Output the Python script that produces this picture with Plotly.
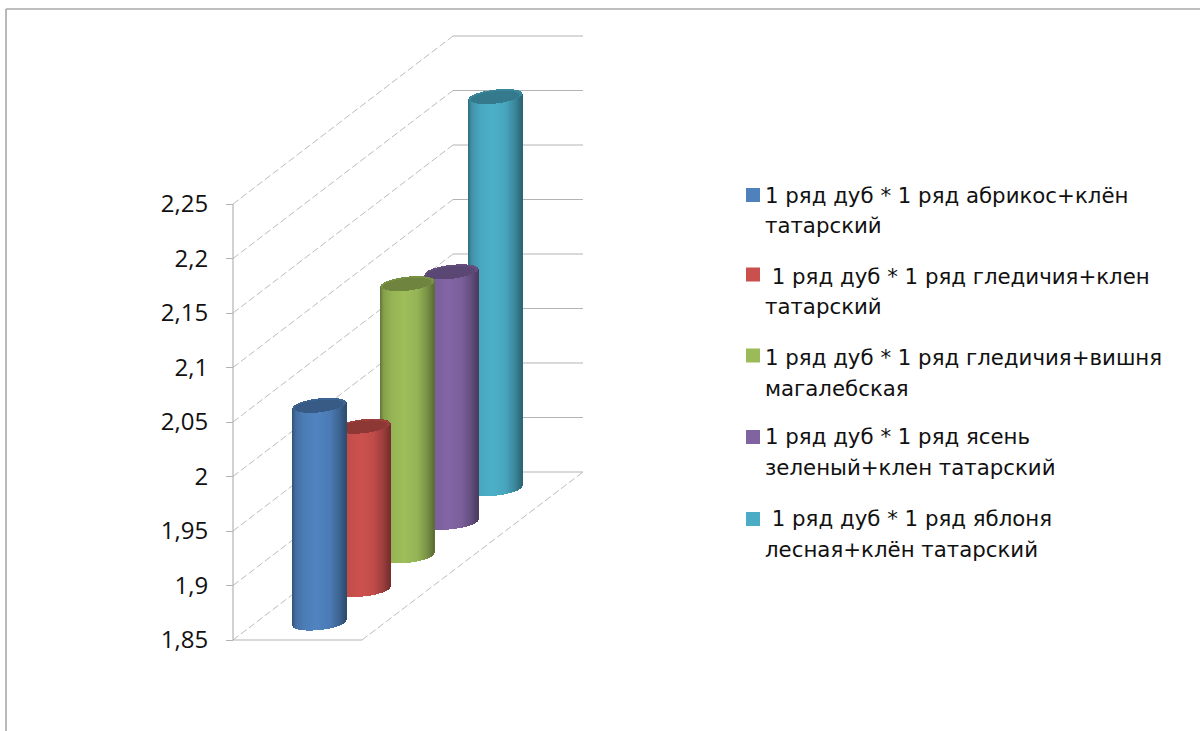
import numpy as np
import plotly.graph_objects as go

# Series, one cylinder per row of the depth axis (front to back)
series_names = [
    ["1 ряд дуб * 1 ряд абрикос+клён", "татарский"],
    ["\u00a01 ряд дуб * 1 ряд гледичия+клен", "татарский"],
    ["1 ряд дуб * 1 ряд гледичия+вишня", "магалебская"],
    ["1 ряд дуб * 1 ряд ясень", "зеленый+клен татарский"],
    ["\u00a01 ряд дуб * 1 ряд яблоня", "лесная+клён татарский"],
]
series_values = [2.05, 2.0, 2.1, 2.08, 2.21]
series_colors = ["#4F81BD", "#C9504D", "#9BBB59", "#8064A2", "#4BACC6"]

tick_values = [1.85, 1.9, 1.95, 2.0, 2.05, 2.1, 2.15, 2.2, 2.25]
tick_labels = ["1,85", "1,9", "1,95", "2", "2,05", "2,1", "2,15", "2,2", "2,25"]

WIDTH, HEIGHT = 1200, 731
FLOOR = tick_values[0]
PX_PER_UNIT = 1090.0          # vertical scale of the value axis
AXIS_X = 233.0
FRONT_WIDTH = 129.0           # width of the floor along the front edge
DEPTH_DX, DEPTH_DY = 220.0, 168.0   # oblique shift of the back wall
N_ROWS = len(series_values)
RADIUS = 26.7                 # cylinder half width
ELLIPSE_B = 6.8               # cylinder end ellipse, vertical half axis
ELLIPSE_SKEW = 0.105          # tilt of the ellipse


def px_to_value(py):
    return FLOOR + (640.0 - py) / PX_PER_UNIT


def depth_shift(d):
    """Screen shift (x, value) of a point d rows behind the front edge."""
    return DEPTH_DX * d / N_ROWS, DEPTH_DY * d / N_ROWS / PX_PER_UNIT


def shade(color, f):
    rgb = [int(color[i:i + 2], 16) for i in (1, 3, 5)]
    return "rgb({},{},{})".format(*[int(min(255, c * f)) for c in rgb])


def cap_strips(cx, top, color, scale, drop, fill):
    """One ellipse of a cylinder's end, built from thin bars so depth order holds."""
    r = RADIUS * scale
    t = np.linspace(-r, r, int(2 * r) + 1)
    half = ELLIPSE_B * scale * np.sqrt(np.clip(1 - (t / r) ** 2, 0, 1))
    centre = top + (ELLIPSE_SKEW * t - drop) / PX_PER_UNIT
    return go.Bar(
        x=cx + t,
        y=2 * half / PX_PER_UNIT,
        base=centre - half / PX_PER_UNIT,
        width=1.25,
        marker=dict(color=shade(color, fill), line=dict(width=0)),
        showlegend=False,
        hoverinfo="skip",
    )


fig = go.Figure()

# Cylinders are drawn back to front so nearer ones cover farther ones
shade_pos = [0.0, 0.06, 0.22, 0.45, 0.7, 0.88, 1.0]
shade_val = [0.66, 0.86, 0.97, 1.02, 0.96, 0.78, 0.6]
for i in reversed(range(N_ROWS)):
    dx, dv = depth_shift(i + 0.5)
    cx = AXIS_X + FRONT_WIDTH / 2 + dx
    base = FLOOR + dv
    t = np.linspace(-RADIUS, RADIUS, 54)
    lower = (ELLIPSE_SKEW * t - ELLIPSE_B * np.sqrt(np.clip(1 - (t / RADIUS) ** 2, 0, 1))) / PX_PER_UNIT
    shades = np.interp((t + RADIUS) / (2 * RADIUS), shade_pos, shade_val)
    fig.add_trace(go.Bar(
        x=cx + t,
        y=np.full_like(t, series_values[i] - FLOOR),
        base=base + lower,
        width=1.25,
        marker=dict(color=[shade(series_colors[i], f) for f in shades], line=dict(width=0)),
        name=" ".join(series_names[i]).strip(),
        showlegend=False,
        hoverinfo="skip",
    ))
    top = base + series_values[i] - FLOOR
    fig.add_trace(cap_strips(cx, top, series_colors[i], 1.0, 0.0, 0.78))
    fig.add_trace(cap_strips(cx, top, series_colors[i], 0.9, 1.0, 0.71))

# Floor and back wall lines, kept beneath the cylinders
GRID = "#b4b4b4"
DIAG = "#bcbcbc"
_, back_dv = depth_shift(N_ROWS)
shapes = []
for v in tick_values:
    shapes.append(dict(type="line", layer="below", xref="x", yref="y",
                       x0=AXIS_X, y0=v, x1=AXIS_X + DEPTH_DX, y1=v + back_dv,
                       line=dict(color=DIAG, width=1, dash="7px,3px")))
    shapes.append(dict(type="line", layer="below", xref="x", yref="y",
                       x0=AXIS_X + DEPTH_DX, y0=v + back_dv,
                       x1=AXIS_X + DEPTH_DX + FRONT_WIDTH + 1, y1=v + back_dv,
                       line=dict(color=GRID, width=1.2)))
shapes.append(dict(type="line", layer="below", xref="x", yref="y",
                   x0=AXIS_X + FRONT_WIDTH, y0=FLOOR,
                   x1=AXIS_X + FRONT_WIDTH + DEPTH_DX + 1, y1=FLOOR + back_dv,
                   line=dict(color=DIAG, width=1, dash="7px,3px")))
shapes.append(dict(type="line", layer="below", xref="x", yref="y",
                   x0=AXIS_X, y0=FLOOR, x1=AXIS_X + FRONT_WIDTH, y1=FLOOR,
                   line=dict(color=GRID, width=1.2)))
shapes.append(dict(type="line", layer="below", xref="x", yref="y",
                   x0=AXIS_X, y0=tick_values[0], x1=AXIS_X, y1=tick_values[-1],
                   line=dict(color=GRID, width=1.2)))

# Frame around the chart area (top and left edges)
FRAME = "#a8a8a8"
shapes.append(dict(type="line", xref="x", yref="y", x0=6, x1=WIDTH,
                   y0=px_to_value(9), y1=px_to_value(9), line=dict(color=FRAME, width=1.6)))
shapes.append(dict(type="line", xref="x", yref="y", x0=6, x1=6,
                   y0=px_to_value(9), y1=px_to_value(HEIGHT), line=dict(color=FRAME, width=1.6)))

# Legend laid out by hand: one swatch and two text rows per series
legend_swatch_y = [195, 274.5, 355.5, 437, 519]
legend_row_y = [(195, 225), (276, 306), (357, 388), (436, 467), (518, 549)]
annotations = []
for i in range(N_ROWS):
    y0 = px_to_value(legend_swatch_y[i] - 7)
    y1 = px_to_value(legend_swatch_y[i] + 7)
    shapes.append(dict(type="rect", xref="x", yref="y", x0=746, x1=760, y0=y1, y1=y0,
                       fillcolor=series_colors[i], line=dict(width=0)))
    for row, py in zip(series_names[i], legend_row_y[i]):
        annotations.append(dict(xref="x", yref="y", x=763, y=px_to_value(py),
                                xanchor="left", yanchor="middle", showarrow=False,
                                text=row, font=dict(family="DejaVu Sans", size=21.3, color="#111111")))

fig.update_layout(
    width=WIDTH, height=HEIGHT,
    margin=dict(l=0, r=0, t=0, b=0),
    paper_bgcolor="white", plot_bgcolor="white",
    barmode="overlay",
    bargap=0,
    showlegend=False,
    shapes=shapes,
    annotations=annotations,
    xaxis=dict(range=[0, WIDTH], visible=False, domain=[0, 1], fixedrange=True),
    yaxis=dict(
        range=[px_to_value(HEIGHT), px_to_value(0)],
        anchor="free", position=AXIS_X / WIDTH,
        tickmode="array", tickvals=tick_values, ticktext=tick_labels,
        ticks="outside", ticklen=7, tickcolor=GRID, tickwidth=1.2,
        ticklabelstandoff=13,
        tickfont=dict(family="Open Sans", size=24, color="#111111"),
        showgrid=False, zeroline=False, showline=False, fixedrange=True,
    ),
)

fig.write_html("out.html")
